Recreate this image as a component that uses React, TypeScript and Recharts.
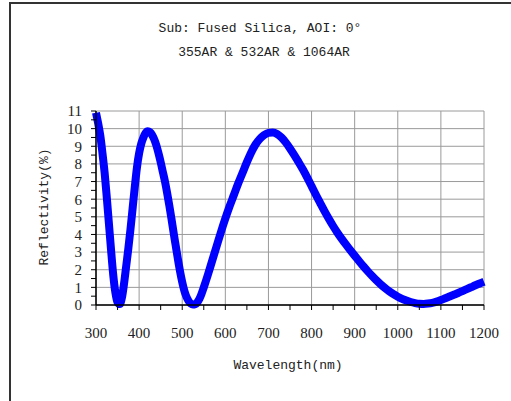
import React from "react";
import { CartesianGrid, Line, LineChart, XAxis, YAxis } from "recharts";

// wavelength (nm) and reflectivity (%)
const wavelengths = [
  300, 305, 310, 315, 320, 325, 330, 335, 340, 345, 350, 355, 360, 365, 370, 375,
  380, 385, 390, 395, 400, 405, 410, 415, 420, 425, 430, 435, 440, 445, 450, 455,
  460, 465, 470, 475, 480, 485, 490, 495, 500, 505, 510, 515, 520, 525, 530, 535,
  540, 545, 550, 560, 570, 580, 590, 600, 610, 620, 630, 640, 650, 660, 670, 680,
  690, 700, 710, 720, 730, 740, 750, 760, 770, 780, 790, 800, 810, 820, 830, 840,
  850, 860, 870, 880, 890, 900, 910, 920, 930, 940, 950, 960, 970, 980, 990, 1000,
  1010, 1020, 1030, 1040, 1050, 1060, 1070, 1080, 1090, 1100, 1110, 1120, 1130,
  1140, 1150, 1160, 1170, 1180, 1190, 1200
];
const reflectivity = [
  10.9, 10.3, 9.6, 8.6, 7.5, 6.1, 4.6, 3.1, 1.7, 0.7, 0.15, 0.05, 0.4, 1.2, 2.2, 3.2,
  4.3, 5.5, 6.7, 7.8, 8.6, 9.15, 9.5, 9.75, 9.85, 9.8, 9.65, 9.4, 9.05, 8.6, 8.1, 7.55,
  7.0, 6.35, 5.65, 4.9, 4.1, 3.35, 2.6, 1.9, 1.3, 0.8, 0.45, 0.22, 0.08, 0.03, 0.05, 0.15,
  0.35, 0.65, 1.0, 1.75, 2.55, 3.35, 4.15, 4.9, 5.6, 6.25, 6.9, 7.5, 8.1, 8.65, 9.1, 9.42,
  9.64, 9.76, 9.78, 9.7, 9.5, 9.22, 8.88, 8.5, 8.1, 7.68, 7.22, 6.74, 6.25, 5.78, 5.32, 4.89,
  4.48, 4.1, 3.75, 3.42, 3.1, 2.8, 2.5, 2.2, 1.92, 1.66, 1.41, 1.18, 0.97, 0.78, 0.61, 0.47,
  0.35, 0.25, 0.17, 0.11, 0.07, 0.06, 0.08, 0.12, 0.19, 0.28, 0.38, 0.48, 0.58,
  0.68, 0.79, 0.9, 1.01, 1.12, 1.22, 1.32
];

const xTicks = [
  300, 350, 400, 450, 500, 550, 600, 650, 700, 750, 800, 850, 900, 950, 1000, 1050,
  1100, 1150, 1200
];
const xGrid = [300, 400, 500, 600, 700, 800, 900, 1000, 1100, 1200];
const yTicks = [
  0, 0.5, 1, 1.5, 2, 2.5, 3, 3.5, 4, 4.5, 5, 5.5, 6, 6.5, 7, 7.5, 8, 8.5, 9, 9.5, 10,
  10.5, 11
];
const yGrid = [0, 1, 2, 3, 4, 5, 6, 7, 8, 9, 10, 11];

const titleLines = ["Sub: Fused Silica, AOI: 0°", "355AR & 532AR & 1064AR"];

const data = wavelengths.map((w, i) => ({ w, r: reflectivity[i] }));

const FONT = '"Liberation Mono", monospace';
const DIGITS = '"Liberation Serif", serif';
const TEXT = "#222";

const centered = (x: number, y: number): React.CSSProperties => ({
  position: "absolute",
  left: x,
  top: y,
  transform: "translate(-50%, -50%)",
  whiteSpace: "nowrap",
  fontFamily: FONT,
  fontSize: 13,
  color: TEXT
});

export default function App() {
  return (
    <div
      style={{
        position: "fixed",
        left: 0,
        top: 0,
        width: 511,
        height: 401,
        overflow: "hidden",
        background: "#fff"
      }}
    >
      {/* frame runs off the right and bottom of the picture */}
      <div
        style={{
          position: "absolute",
          left: 9,
          top: 2,
          width: 600,
          height: 600,
          border: "2px solid #333"
        }}
      />
      <div style={{ position: "absolute", left: 0, top: 0 }}>
        <LineChart
          width={511}
          height={401}
          data={data}
          margin={{ top: 111, right: 27, bottom: 66, left: 56 }}
        >
          <CartesianGrid
            stroke="#9a9a9a"
            strokeWidth={1}
            verticalValues={xGrid}
            horizontalValues={yGrid}
          />
          <XAxis
            dataKey="w"
            type="number"
            domain={[300, 1200]}
            ticks={xTicks}
            interval={0}
            height={30}
            axisLine={{ stroke: "#000", strokeWidth: 1.5 }}
            tickLine={{ stroke: "#000" }}
            tickSize={5}
            tickMargin={17}
            tick={{ fontFamily: DIGITS, fontSize: 15, fill: TEXT }}
            tickFormatter={(v: number) => (v % 100 === 0 ? String(v) : "")}
          />
          <YAxis
            type="number"
            domain={[0, 11]}
            ticks={yTicks}
            interval={0}
            width={40}
            axisLine={{ stroke: "#000", strokeWidth: 1.5 }}
            tickLine={{ stroke: "#000" }}
            tickSize={5}
            tickMargin={9}
            tick={{ fontFamily: DIGITS, fontSize: 15, fill: TEXT }}
            tickFormatter={(v: number) => (Number.isInteger(v) ? String(v) : "")}
          />
          <Line
            type="monotone"
            dataKey="r"
            stroke="#0000ff"
            strokeWidth={8}
            dot={false}
            isAnimationActive={false}
          />
        </LineChart>
      </div>
      <div style={centered(260, 28)}>{titleLines[0]}</div>
      <div style={centered(264, 52)}>{titleLines[1]}</div>
      <div style={{ ...centered(44, 207), transform: "translate(-50%, -50%) rotate(-90deg)" }}>
        Reflectivity(%)
      </div>
      <div style={centered(288, 365)}>Wavelength(nm)</div>
    </div>
  );
}
